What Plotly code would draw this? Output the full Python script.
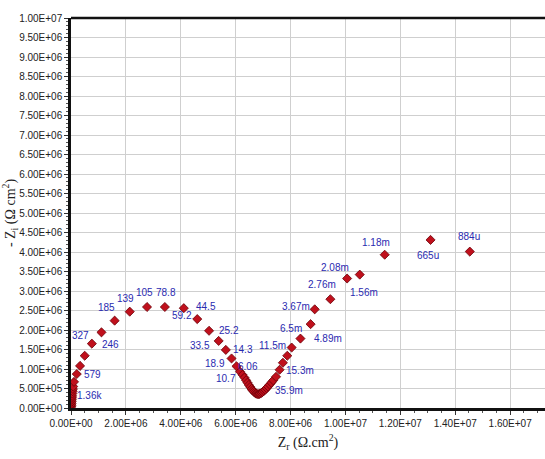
import plotly.graph_objects as go

# impedance data (units of 1e6 ohm.cm2)
zr = [0.01, 0.015, 0.02, 0.025, 0.03, 0.035, 0.04, 0.05, 0.06, 0.07, 0.08, 0.11,
      0.21, 0.33, 0.50, 0.76, 1.11, 1.59, 2.14, 2.77, 3.42, 4.11, 4.60,
      5.03, 5.38, 5.64, 5.85, 6.03, 6.16,
      6.25, 6.32, 6.38, 6.43, 6.48, 6.53, 6.58, 6.62, 6.66, 6.70, 6.74, 6.78, 6.82,
      6.86, 6.90, 6.94, 6.98, 7.03, 7.08, 7.13, 7.18, 7.24, 7.30, 7.37,
      7.47, 7.60, 7.72, 7.88, 8.04, 8.36, 8.73, 8.88, 9.45, 10.06, 10.52, 11.43,
      13.10, 14.53]
zi = [0.03, 0.07, 0.11, 0.16, 0.21, 0.26, 0.31, 0.37, 0.43, 0.49, 0.55, 0.67,
      0.87, 1.08, 1.34, 1.65, 1.94, 2.24, 2.47, 2.59, 2.59, 2.56, 2.28,
      1.98, 1.72, 1.49, 1.27, 1.07, 0.93,
      0.85, 0.78, 0.71, 0.65, 0.59, 0.54, 0.49, 0.45, 0.42, 0.39, 0.37, 0.36, 0.355,
      0.36, 0.37, 0.39, 0.41, 0.44, 0.47, 0.51, 0.55, 0.60, 0.65, 0.71,
      0.80, 0.98, 1.16, 1.34, 1.55, 1.78, 2.15, 2.53, 2.79, 3.32, 3.42, 3.93,
      4.31, 4.01]

# frequency labels
lab_text = ["1.36k", "579", "327", "246", "185", "139", "105", "78.8", "59.2", "44.5",
            "33.5", "25.2", "18.9", "14.3", "10.7", "6.06", "35.9m", "15.3m", "11.5m",
            "6.5m", "4.89m", "3.67m", "2.76m", "2.08m", "1.56m", "1.18m", "665u", "884u"]
lab_x = [0.67, 0.78, 0.35, 1.45, 1.31, 1.98, 2.68, 3.45, 4.05, 4.92,
         4.69, 5.74, 5.25, 6.26, 5.65, 6.44, 7.96, 8.35, 7.35,
         8.00, 9.37, 8.20, 9.15, 9.61, 10.67, 11.11, 13.00, 14.49]
lab_y = [0.33, 0.86, 1.87, 1.63, 2.57, 2.81, 2.97, 2.97, 2.38, 2.60,
         1.59, 2.00, 1.15, 1.49, 0.75, 1.06, 0.44, 0.96, 1.59,
         2.04, 1.79, 2.60, 3.17, 3.60, 2.96, 4.25, 3.90, 4.39]

x_ticks = [0, 2e6, 4e6, 6e6, 8e6, 1e7, 1.2e7, 1.4e7, 1.6e7]
x_tick_text = ["0.00E+00", "2.00E+06", "4.00E+06", "6.00E+06", "8.00E+06",
               "1.00E+07", "1.20E+07", "1.40E+07", "1.60E+07"]
y_ticks = [i * 5e5 for i in range(21)]
y_tick_text = ["0.00E+00", "5.00E+05", "1.00E+06", "1.50E+06", "2.00E+06", "2.50E+06",
               "3.00E+06", "3.50E+06", "4.00E+06", "4.50E+06", "5.00E+06", "5.50E+06",
               "6.00E+06", "6.50E+06", "7.00E+06", "7.50E+06", "8.00E+06", "8.50E+06",
               "9.00E+06", "9.50E+06", "1.00E+07"]

S = 1e6
fig = go.Figure()
fig.add_trace(go.Scatter(
    x=[v * S for v in zr], y=[v * S for v in zi], mode="markers",
    marker=dict(symbol="diamond", size=7, color="#c0101c",
                line=dict(color="#6a0008", width=0.8)),
    showlegend=False, hoverinfo="skip"))

for t, x, y in zip(lab_text, lab_x, lab_y):
    fig.add_annotation(x=x * S, y=y * S, text=t, showarrow=False,
                       font=dict(family="Liberation Sans Narrow, Arial Narrow, Arial",
                                 size=10, color="#2a2ab0"))

tickfont = dict(family="Liberation Sans Narrow, Arial Narrow, Arial", size=10, color="#222")
fig.update_xaxes(range=[0, 1.727e7], tickvals=x_ticks, ticktext=x_tick_text,
                 tickfont=tickfont, showgrid=True, gridcolor="#cfcfcf", gridwidth=1,
                 showline=True, linecolor="#111", linewidth=2.5, mirror=False,
                 ticks="outside", ticklen=4, tickcolor="#333", zeroline=False,
                 minor=dict(dtick=5e5, ticks="outside", ticklen=2, tickcolor="#555",
                            showgrid=False),
                 title=dict(text="Z<sub>r</sub> (Ω.cm<sup>2</sup>)",
                            font=dict(family="Liberation Serif, Times New Roman, serif",
                                      size=14, color="#222"), standoff=10))
fig.update_yaxes(range=[0, 1e7], tickvals=y_ticks, ticktext=y_tick_text,
                 tickfont=tickfont, showgrid=True, gridcolor="#cfcfcf", gridwidth=1,
                 showline=True, linecolor="#111", linewidth=2.5,
                 ticks="outside", ticklen=4, tickcolor="#333", zeroline=False,
                 minor=dict(dtick=1e5, ticks="outside", ticklen=2, tickcolor="#555",
                            showgrid=False),
                 title=dict(text="- Z<sub>i</sub> (Ω cm<sup>2</sup>)",
                            font=dict(family="Liberation Serif, Times New Roman, serif",
                                      size=14, color="#222"), standoff=2))
# top border line
fig.add_shape(type="line", xref="paper", yref="paper", x0=0, x1=1, y0=1, y1=1,
              line=dict(color="#111", width=2.5))

fig.update_layout(width=545, height=459, margin=dict(l=71, r=0, t=18, b=51),
                  plot_bgcolor="white", paper_bgcolor="white")
fig.write_html("out.html")
